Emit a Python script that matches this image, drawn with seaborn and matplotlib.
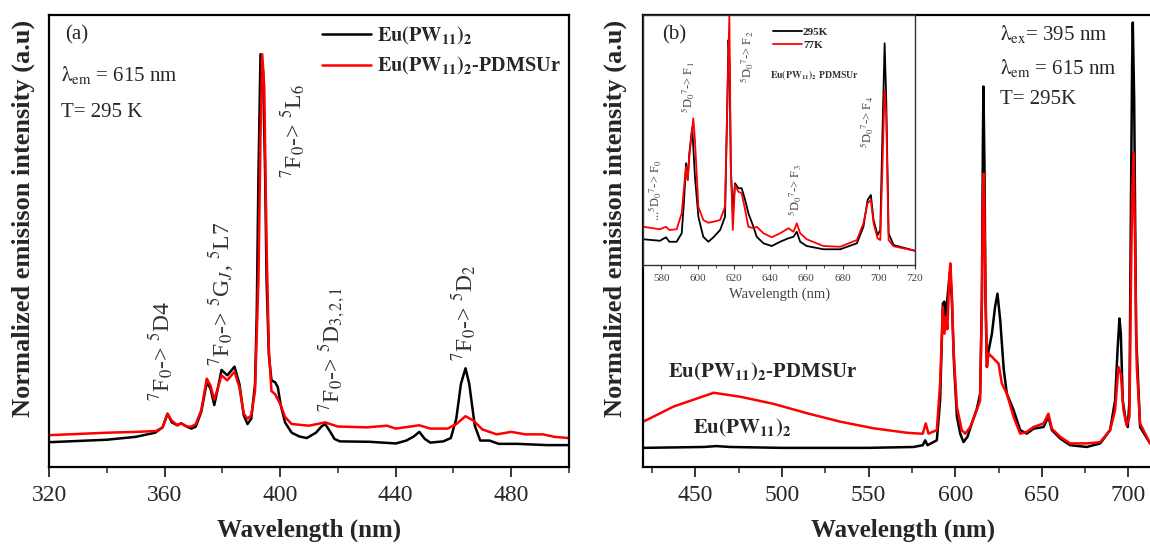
import pandas as pd
import seaborn as sns
import matplotlib.pyplot as plt
from matplotlib.ticker import MultipleLocator

# ---- panel (a): excitation spectra ----
a_wl_black = [320, 340, 350, 356.7, 359.3, 361, 362.5, 364.4, 365.7, 367.6, 369.3, 370.8, 372.7, 374.6, 375.9,
              377.2, 378.5, 379.7, 381.7, 384.2, 385.9, 387.4, 388.7, 390, 391.3, 391.9, 392.5, 393.2, 394.1, 394.8,
              395.3, 396.1, 397, 398.3, 399.2, 400.2, 401.7, 404, 406.6, 409.2, 412.4, 414.3, 415.6, 417.2, 418.8,
              420.7, 430.9, 440.1, 443.7, 446.3, 448.2, 450.1, 452, 456.5, 459.1, 461, 462.6, 464.2, 465.5, 467.4,
              469.3, 472.5, 475.7, 482.1, 492.3, 500]
a_black = [0.060, 0.066, 0.073, 0.083, 0.096, 0.129, 0.108, 0.101, 0.106, 0.098, 0.093, 0.098, 0.134, 0.205, 0.190,
           0.150, 0.193, 0.235, 0.222, 0.243, 0.201, 0.125, 0.104, 0.117, 0.20, 0.37, 0.71, 1.0, 0.96, 0.71,
           0.455, 0.27, 0.21, 0.205, 0.193, 0.150, 0.108, 0.083, 0.074, 0.070, 0.083, 0.098, 0.104, 0.087, 0.068,
           0.062, 0.061, 0.057, 0.064, 0.074, 0.085, 0.068, 0.059, 0.062, 0.070, 0.117, 0.201, 0.239, 0.201, 0.100,
           0.064, 0.064, 0.056, 0.056, 0.053, 0.053]

a_wl_red = [320, 340, 350, 357, 359.3, 361, 362.5, 364.4, 365.7, 367.6, 369.3, 370.8, 372.7, 374.6, 375.9,
            377.2, 378.5, 379.7, 381.7, 384.2, 385.9, 387.4, 388.7, 390, 391.3, 392.5, 393.2, 393.8, 394.5, 395.3,
            396.1, 397, 398.3, 400.2, 401.7, 404, 410, 415.6, 420, 430, 437, 440, 448.2, 452, 458,
            461, 464.2, 467, 470, 475, 480, 485, 491, 495, 500]
a_red = [0.077, 0.083, 0.085, 0.087, 0.096, 0.129, 0.112, 0.101, 0.106, 0.098, 0.098, 0.104, 0.138, 0.214, 0.197,
         0.163, 0.193, 0.222, 0.210, 0.231, 0.193, 0.129, 0.117, 0.125, 0.184, 0.455, 0.80, 1.0, 0.92, 0.54,
         0.286, 0.184, 0.176, 0.150, 0.121, 0.104, 0.10, 0.108, 0.098, 0.096, 0.10, 0.093, 0.101, 0.093, 0.093,
         0.104, 0.123, 0.112, 0.091, 0.079, 0.085, 0.079, 0.079, 0.073, 0.070]

# ---- panel (b): emission spectra ----
b_wl_black = [420, 455, 462, 470, 500, 550, 576, 581.3, 582.7, 584, 589.4, 591.3, 592.9, 593.7, 594.4,
              595.2, 597, 598.1, 599.4, 601, 602.9, 604.8, 607.1, 609.6, 612.5, 614.4, 615.4, 616, 616.3, 616.9,
              617.5, 618.3, 619.2, 621.2, 623, 624.4, 626, 628, 629.8, 633.7, 637.5, 641.3, 645.2, 651, 653.8,
              655.8, 660.6, 666.3, 676, 683.7, 689.4, 692.3, 693.7, 694.8, 695.6, 696.7, 698.7, 699.6, 700.6, 701.3,
              702.1, 702.5, 703.3, 704.4, 706.7, 712.5, 720]
b_black = [0.043, 0.045, 0.047, 0.045, 0.043, 0.043, 0.045, 0.049, 0.060, 0.049, 0.060, 0.150, 0.368, 0.372, 0.338,
           0.368, 0.44, 0.375, 0.225, 0.113, 0.075, 0.056, 0.068, 0.098, 0.131, 0.165, 0.375, 0.736, 0.856, 0.676,
           0.375, 0.225, 0.26, 0.30, 0.36, 0.39, 0.33, 0.22, 0.165, 0.128, 0.083, 0.075, 0.086, 0.09, 0.113,
           0.083, 0.064, 0.049, 0.045, 0.053, 0.083, 0.150, 0.263, 0.334, 0.30, 0.150, 0.098, 0.09, 0.15, 0.525,
           0.90, 1.0, 0.826, 0.30, 0.09, 0.053, 0.05]

b_wl_red = [420, 437.5, 460.6, 476, 495.2, 514.4, 533.6, 552.9, 572.1, 579.8, 581.3, 583, 584.6, 589.4, 591.3,
            592.9, 593.8, 594.8, 595.5, 596.5, 597.2, 598, 599, 601, 603.8, 605.8, 608.7, 612.5, 614.4, 615.4,
            616, 616.5, 617.3, 618.3, 619.2, 621.2, 623.1, 625, 626.9, 629.8, 633.7, 637.5, 641.3, 645.2, 651,
            653.8, 655.8, 660.6, 666.3, 676, 683.7, 689.4, 692.3, 694.2, 695.6, 697.1, 699, 700.6, 701.3, 702.1,
            702.9, 703.7, 704.8, 706.7, 712.5, 720]
b_red = [0.102, 0.136, 0.167, 0.158, 0.142, 0.121, 0.102, 0.087, 0.077, 0.075, 0.075, 0.098, 0.075, 0.083, 0.188,
         0.36, 0.30, 0.338, 0.31, 0.42, 0.458, 0.40, 0.263, 0.135, 0.083, 0.075, 0.09, 0.128, 0.15, 0.375,
         0.60, 0.66, 0.45, 0.225, 0.255, 0.248, 0.24, 0.233, 0.188, 0.165, 0.113, 0.075, 0.079, 0.09, 0.098,
         0.12, 0.086, 0.068, 0.053, 0.053, 0.056, 0.083, 0.128, 0.225, 0.21, 0.128, 0.094, 0.113, 0.375, 0.60,
         0.706, 0.525, 0.225, 0.098, 0.053, 0.05]

# ---- inset: 295 K vs 77 K ----
i_wl_black = [570, 579.2, 582.5, 584.4, 588.4, 591.2, 592.5, 593.6, 594.5, 595.4, 597, 598.5, 600.4, 603.1, 605.9,
              608.7, 612.4, 615.1, 616.4, 617, 617.6, 618.3, 619.4, 620.6, 622.5, 624.3, 626.2, 628, 630.8, 632.6,
              636.3, 640.9, 645.5, 650.1, 652.9, 654.7, 656.6, 660.2, 669.4, 678.7, 687.9, 691.5, 693.8, 695.6, 697.1,
              699.3, 700.8, 702, 703.2, 704.1, 705.4, 708.1, 720]
i_black = [0.103, 0.097, 0.111, 0.093, 0.093, 0.127, 0.26, 0.407, 0.34, 0.447, 0.55, 0.353, 0.193, 0.113, 0.093,
           0.111, 0.14, 0.193, 0.66, 0.90, 0.80, 0.39, 0.207, 0.327, 0.307, 0.307, 0.26, 0.207, 0.153, 0.113,
           0.087, 0.076, 0.093, 0.107, 0.113, 0.133, 0.093, 0.076, 0.063, 0.063, 0.087, 0.153, 0.26, 0.28, 0.18,
           0.12, 0.14, 0.527, 0.887, 0.66, 0.127, 0.08, 0.057]

i_wl_red = [570, 579.2, 582.5, 584.4, 588.4, 591.2, 592.5, 593.6, 594.5, 595.4, 596.3, 597.6, 598.5, 600.4, 603.1,
            605.9, 608.7, 612.4, 615.1, 616.4, 617.5, 618.3, 619.4, 620.6, 622.5, 624.3, 626.2, 628, 630.8, 632.6,
            636.3, 640.9, 645.5, 650.1, 652.9, 654.7, 656.6, 660.2, 669.4, 678.7, 687.9, 691.5, 693.8, 695.6, 697.1,
            699.3, 700.8, 702, 703.2, 704.1, 705.4, 708.1, 720]
i_red = [0.153, 0.143, 0.153, 0.14, 0.143, 0.207, 0.313, 0.393, 0.34, 0.433, 0.50, 0.587, 0.50, 0.233, 0.18,
         0.169, 0.173, 0.18, 0.233, 0.66, 1.0, 0.40, 0.14, 0.32, 0.293, 0.287, 0.22, 0.153, 0.147, 0.153,
         0.127, 0.111, 0.127, 0.147, 0.133, 0.167, 0.127, 0.103, 0.076, 0.073, 0.1, 0.167, 0.247, 0.26, 0.167,
         0.107, 0.1, 0.393, 0.70, 0.593, 0.1, 0.075, 0.057]

label_pure = r'$\mathbf{Eu(PW_{11})_2}$'
label_hybrid = r'$\mathbf{Eu(PW_{11})_2}$-PDMSUr'

sns.set_style('ticks')
plt.rcParams['font.family'] = ['Liberation Serif', 'DejaVu Serif']
plt.rcParams['mathtext.fontset'] = 'stix'
ann_color = '#333333'

fig = plt.figure(figsize=(11.5, 5.47), dpi=100)
ax_a = fig.add_axes([0.0427, 0.1463, 0.452, 0.8263])
ax_b = fig.add_axes([0.5594, 0.1463, 0.452, 0.8263])
ax_in = fig.add_axes([0.5594, 0.5155, 0.2363, 0.4571])

# Panel (a)
sns.lineplot(x=a_wl_black, y=a_black, color='black', lw=1.8, ax=ax_a, label=label_pure)
sns.lineplot(x=a_wl_red, y=a_red, color='#ff0000', lw=1.8, ax=ax_a, label=label_hybrid)
ax_a.set_xlim(320, 500)
ax_a.set_ylim(0, 1.095)
ax_a.xaxis.set_major_locator(MultipleLocator(40))
ax_a.xaxis.set_minor_locator(MultipleLocator(20))
ax_a.legend(loc='upper right', bbox_to_anchor=(0.985, 0.978), borderaxespad=0, borderpad=0,
            frameon=False, handlelength=2.4, handletextpad=0.3, labelspacing=0.4,
            prop={'weight': 'bold', 'size': 14.6})
ax_a.text(0.03, 0.955, '(a)', transform=ax_a.transAxes, fontsize=15, va='center')
ax_a.text(0.023, 0.867, r'$\mathrm{\lambda_{em}}$ = 615 nm', transform=ax_a.transAxes, fontsize=15, va='center')
ax_a.text(0.023, 0.785, 'T= 295 K', transform=ax_a.transAxes, fontsize=15, va='center')

a_ann = [(358.9, 0.28, r'$^7$F$_0$-> $^5$D4'),
         (379.7, 0.42, r'$^7$F$_0$-> $^5$G$_J$, $^5$L7'),
         (404.7, 0.814, r'$^7$F$_0$-> $^5$L$_6$'),
         (418.0, 0.285, r'$^7$F$_0$-> $^5$D$_{3,2,1}$'),
         (464.0, 0.375, r'$^7$F$_0$-> $^5$D$_2$')]
for x, y, s in a_ann:
    ax_a.text(x, y, s, rotation=90, ha='center', va='center', fontsize=17, color=ann_color)

# Panel (b)
sns.lineplot(x=b_wl_black, y=b_black, color='black', lw=1.8, ax=ax_b, legend=False)
sns.lineplot(x=b_wl_red, y=b_red, color='#ff0000', lw=1.8, ax=ax_b, legend=False)
ax_b.set_xlim(420, 720)
ax_b.set_ylim(0, 1.017)
ax_b.xaxis.set_major_locator(MultipleLocator(50))
ax_b.xaxis.set_minor_locator(MultipleLocator(25))
ax_b.text(434.4, 0.214, label_hybrid, fontsize=15, fontweight='bold', va='center')
ax_b.text(448.7, 0.087, label_pure, fontsize=15, fontweight='bold', va='center')
ax_b.text(626, 0.975, r'$\mathrm{\lambda_{ex}}$= 395 nm', fontsize=15, va='center')
ax_b.text(626, 0.898, r'$\mathrm{\lambda_{em}}$ = 615 nm', fontsize=15, va='center')
ax_b.text(626, 0.826, 'T= 295K', fontsize=15, va='center')

for ax, lx in ((ax_a, -0.027), (ax_b, -0.031)):
    ax.set_yticks([])
    ax.set_xlabel('Wavelength (nm)', fontsize=18, fontweight='bold', labelpad=9)
    ax.set_ylabel('Normalized emisison intensity (a.u)', fontsize=19, fontweight='bold')
    ax.yaxis.set_label_coords(lx, 0.55)
    ax.tick_params(axis='x', which='major', direction='out', length=7, width=1.3, labelsize=17, pad=6)
    ax.tick_params(axis='x', which='minor', direction='out', length=4, width=1.1)
    for sp in ax.spines.values():
        sp.set_linewidth(1.6)
        sp.set_color('black')

# Inset
ax_in.set_facecolor('white')
sns.lineplot(x=i_wl_black, y=i_black, color='black', lw=1.3, ax=ax_in, label='295K')
sns.lineplot(x=i_wl_red, y=i_red, color='#ff0000', lw=1.3, ax=ax_in, label='77K')
ax_in.set_xlim(570, 720)
ax_in.set_ylim(0, 1.0)
ax_in.set_yticks([])
ax_in.xaxis.set_major_locator(MultipleLocator(20))
ax_in.xaxis.set_minor_locator(MultipleLocator(10))
ax_in.tick_params(axis='x', which='major', direction='out', length=3, width=0.8, labelsize=8,
                  labelcolor='#444444')
ax_in.tick_params(axis='x', which='minor', direction='out', length=2, width=0.6)
ax_in.set_xlabel('Wavelength (nm)', fontsize=10.5, color='#444444', labelpad=3)
ax_in.set_ylabel('')
for sp in ax_in.spines.values():
    sp.set_linewidth(1.0)
    sp.set_color('#333333')
ax_in.legend(loc='upper left', bbox_to_anchor=(0.44, 0.99), frameon=False, handlelength=2.6,
             handletextpad=0.1, labelspacing=0.25, prop={'weight': 'bold', 'size': 8})
ax_in.text(0.069, 0.92, '(b)', transform=ax_in.transAxes, fontsize=15, va='center')
ax_in.text(0.466, 0.76, r'$\mathbf{Eu(PW_{11})_2}$ PDMSUr', transform=ax_in.transAxes,
           fontsize=7, fontweight='bold', va='center', color='#333333')

in_ann = [(0.043, 0.30, r'...$^5$D$_0$$^7$-> F$_0$'),
          (0.164, 0.712, r'$^5$D$_0$$^7$-> F$_1$'),
          (0.381, 0.832, r'$^5$D$_0$$^7$-> F$_2$'),
          (0.558, 0.30, r'$^5$D$_0$$^7$-> F$_3$'),
          (0.823, 0.572, r'$^5$D$_0$$^7$-> F$_4$')]
for x, y, s in in_ann:
    ax_in.text(x, y, s, transform=ax_in.transAxes, rotation=90, ha='center', va='center',
               fontsize=9, color='#444444')

fig.savefig('out.png', dpi=100)
